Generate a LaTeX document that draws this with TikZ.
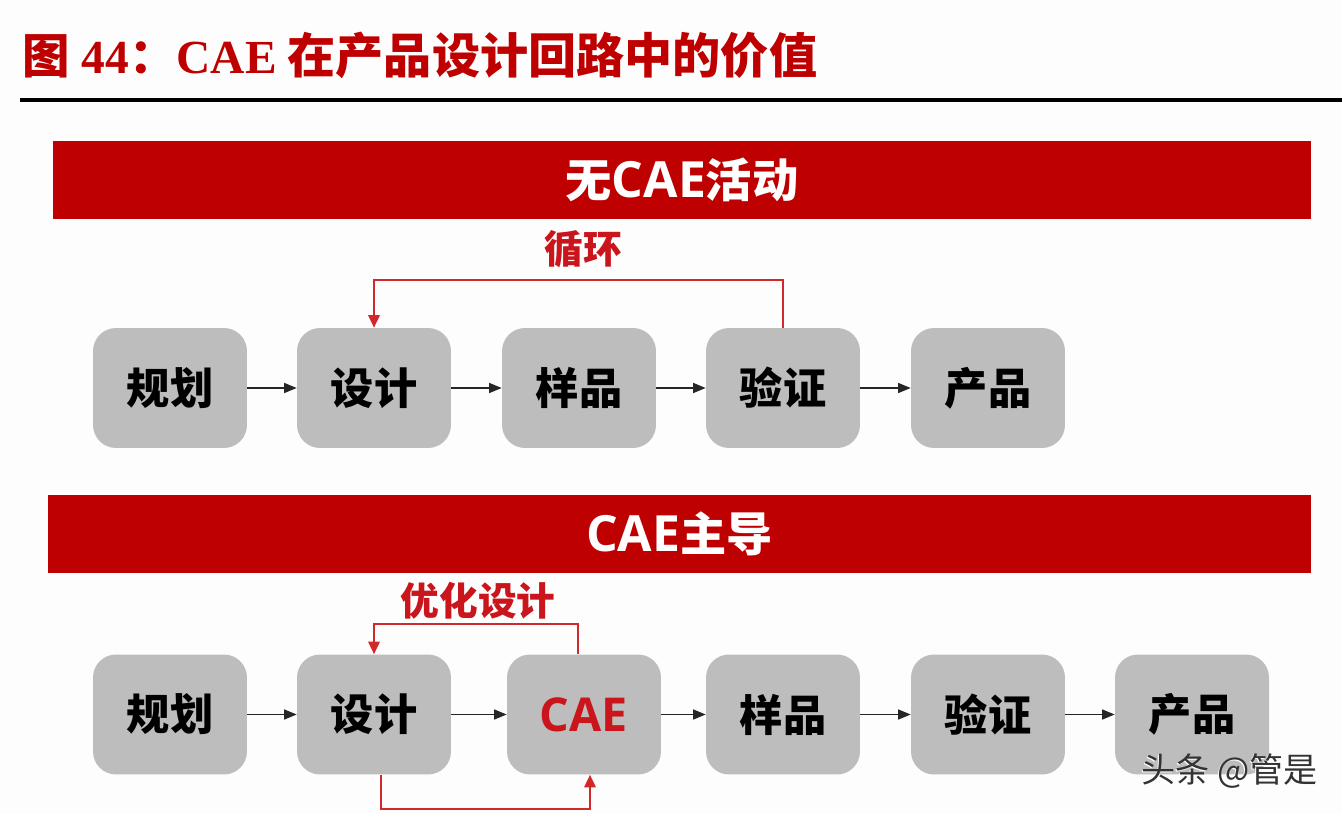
\documentclass[tikz,border=0pt]{standalone}
\usepackage{xcolor}
\usepackage{fontspec}
\usetikzlibrary{arrows.meta}
\setmainfont{Liberation Serif}
\newfontfamily\cjk{Noto Sans CJK SC}
\newfontfamily\wide[Scale=1.08]{Open Sans}
\definecolor{bannerred}{HTML}{BF0000}
\definecolor{looptext}{HTML}{C9151B}
\definecolor{loopline}{HTML}{D2272B}
\definecolor{boxgray}{HTML}{BDBDBD}
\definecolor{pagewhite}{HTML}{FDFDFD}
\newcommand{\markshadow}[1]{\rlap{\kern-0.6pt\raisebox{-0.6pt}{\color{white}#1}}#1}
\tikzset{
    stagebox/.style={fill=boxgray, rounded corners=0.46cm, minimum width=3.08cm, minimum height=2.4cm, inner sep=0pt, text=black, font=\cjk\bfseries\fontsize{24.6}{24.6}\selectfont},
    banner/.style={fill=bannerred, inner sep=0pt, minimum height=1.56cm, text=white, font=\cjk\bfseries\fontsize{26.3}{26.3}\selectfont},
    flow/.style={-{Triangle[length=0.25cm,width=0.2cm]}, line width=0.7pt, black!85},
    feedback/.style={-{Triangle[length=0.25cm,width=0.23cm]}, line width=1pt, loopline},
    looplabel/.style={text=looptext, font=\cjk\bfseries\fontsize{22}{22}\selectfont}
}
\begin{document}
\begin{tikzpicture}[x=0.02cm, y=-0.02cm]
    \fill[pagewhite] (0, 0) rectangle (1342, 814);
    \useasboundingbox (0, 0) rectangle (1342, 814);

    \node[anchor=west, text=bannerred, inner sep=0pt, font=\bfseries\fontsize{27}{27}\selectfont] (title) at (22, 55)
        {{\cjk 图} 44{\cjk ：}CAE{\cjk\fontsize{27.4}{27.4}\selectfont\ 在产品设计回路中的价值}};
    \coordinate (ruleleft) at (20, 100);
    \coordinate (ruleright) at (1342, 100);
    \draw[line width=2.2pt] (ruleleft) -- (ruleright);

    \node[banner, minimum width=25.16cm] (bannerA) at (682, 180) {\raisebox{-2pt}{无{\wide CAE}活动}};
    \node[banner, minimum width=25.26cm] (bannerB) at (679.5, 534) {\raisebox{-2pt}{{\wide CAE}主导}};

    \foreach \name/\x/\label in {planA/170/规划, designA/374/设计, sampleA/579/样品, verifyA/783/验证, productA/988/产品} {
        \node[stagebox] (\name) at (\x, 388) {\label};
    }
    \foreach \name/\x/\label in {planB/170/规划, designB/374/设计, sampleB/783/样品, verifyB/988/验证, productB/1192/产品} {
        \node[stagebox] (\name) at (\x, 714.5) {\label};
    }
    \node[stagebox, text=looptext] (cae) at (584, 714.5) {\wide CAE};

    \foreach \from/\to in {planA/designA, designA/sampleA, sampleA/verifyA, verifyA/productA, planB/designB, designB/cae, cae/sampleB, sampleB/verifyB, verifyB/productB} {
        \draw[flow] (\from) -- (\to);
    }

    \coordinate (looptopA) at (578, 280);
    \draw[feedback] (verifyA.north) |- (looptopA) -| (designA.north);
    \node[looplabel] (loopA) at (583.5, 249) {循环};

    \coordinate (looptopB) at (478, 624);
    \draw[feedback] ([xshift=-0.12cm]cae.north) |- (looptopB) -| (designB.north);
    \node[looplabel] (loopB) at (478, 601) {优化设计};

    \coordinate (loopbottom) at (485, 809);
    \draw[feedback] ([xshift=0.14cm]designB.south) |- (loopbottom) -| ([xshift=0.12cm]cae.south);

    \node[anchor=west, inner sep=0pt, text=black!80, font=\cjk\fontsize{19.4}{19.4}\selectfont] (mark) at (1141, 772) {\markshadow{头条 @管是}};
\end{tikzpicture}
\end{document}
